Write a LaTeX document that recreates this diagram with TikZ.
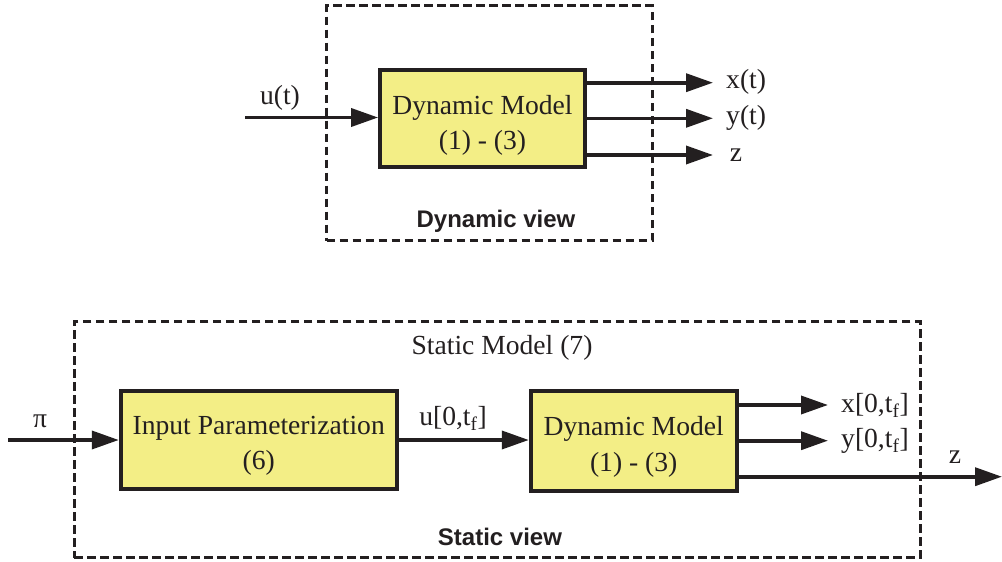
\documentclass[tikz,border=0pt]{standalone}
\usepackage{fontspec}
\setmainfont{Liberation Serif}
\setsansfont{Liberation Sans}
\usetikzlibrary{arrows.meta}
\definecolor{ink}{RGB}{35,31,32}
\definecolor{boxyellow}{RGB}{243,238,134}
\tikzset{
  blk/.style={draw=ink, fill=boxyellow, line width=3.8pt, inner sep=0pt},
  blktext/.style={align=center, inner sep=0pt, font=\fontsize{27.6}{35.5}\selectfont, text=ink},
  frame/.style={draw=ink, line width=3pt, dash pattern=on 8.5pt off 4.5pt, inner sep=0pt},
  arr/.style={draw=ink, line width=3.6pt, -{Triangle[length=27pt,width=18pt]}},
  lbl/.style={font=\fontsize{27.6}{30}\selectfont, text=ink, inner sep=0pt},
  view/.style={font=\sffamily\bfseries\fontsize{24}{28}\selectfont, text=ink, inner sep=0pt}
}
\begin{document}
\begin{tikzpicture}[x=1pt,y=-1pt]
\useasboundingbox (0,0) rectangle (1002,562);
% ---------- top: dynamic view ----------
\node[frame, minimum width=325.6pt, minimum height=235pt] (dynframe) at (489.5,123.2) {};
\node[blk, minimum width=205pt, minimum height=97.4pt] (dm1) at (482.5,118.3) {};
\node[blktext] (dm1t) at ([yshift=-7pt]dm1.center) {Dynamic Model\\(1) - (3)};
\coordinate (uin) at (245,117.5);
\coordinate (xo) at (713,82.7);
\coordinate (yo) at (713,118.3);
\coordinate (zo) at (713,155);
\draw[arr] (uin) -- (uin -| dm1.west);
\draw[arr] (dm1.east |- xo) -- (xo);
\draw[arr] (dm1.east |- yo) -- (yo);
\draw[arr] (dm1.east |- zo) -- (zo);
\node[lbl] (ulab) at (280,98) {u(t)};
\node[lbl, anchor=west] (xlab) at (726,82) {x(t)};
\node[lbl, anchor=west] (ylab) at (726,118) {y(t)};
\node[lbl] (zlab) at (736,155) {z};
\node[view] (dynview) at (496,221) {Dynamic view};
% ---------- bottom: static view ----------
\node[frame, minimum width=846pt, minimum height=236.3pt] (statframe) at (497,439.8) {};
\node[lbl] (stattitle) at (502,348) {Static Model (7)};
\node[blk, minimum width=276pt, minimum height=98pt] (ip) at (258.7,440) {};
\node[blktext] (ipt) at ([yshift=-6pt]ip.center) {Input Parameterization\\(6)};
\node[blk, minimum width=206pt, minimum height=100pt] (dm2) at (633.7,441) {};
\node[blktext] (dm2t) at ([yshift=-6pt]dm2.center) {Dynamic Model\\(1) - (3)};
\coordinate (piin) at (8,440);
\coordinate (xo2) at (828,405);
\coordinate (yo2) at (828,440.7);
\coordinate (zo2) at (1002,476.7);
\draw[arr] (piin) -- (piin -| ip.west);
\draw[arr] (ip.east |- piin) -- (dm2.west |- piin);
\draw[arr] (dm2.east |- xo2) -- (xo2);
\draw[arr] (dm2.east |- yo2) -- (yo2);
\draw[arr] (dm2.east |- zo2) -- (zo2);
\node[lbl] (pilab) at (40,421) {π};
\node[lbl] (ulab2) at (453,418) {u[0,t\textsubscript{f}]};
\node[lbl, anchor=west] (xlab2) at (841,405) {x[0,t\textsubscript{f}]};
\node[lbl, anchor=west] (ylab2) at (841,441) {y[0,t\textsubscript{f}]};
\node[lbl] (zlab2) at (955,457) {z};
\node[view] (statview) at (500,537) {Static view};
\end{tikzpicture}
\end{document}
